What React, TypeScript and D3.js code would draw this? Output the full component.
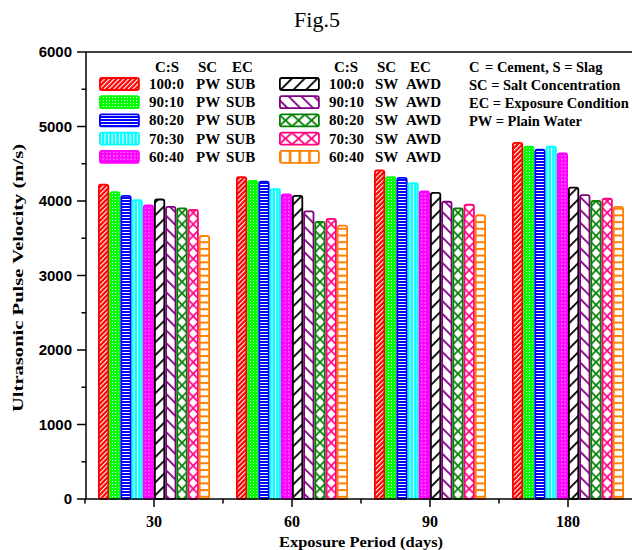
import * as d3 from 'd3';

// exposure periods (days) and the ten mixes
const periods = ['30', '60', '90', '180'];
const mixLabels = ['100:0', '90:10', '80:20', '70:30', '60:40'];

// plain water, submerged
const pw100 = [4220, 4320, 4410, 4780];
const pw90 = [4120, 4270, 4320, 4730];
const pw80 = [4070, 4260, 4310, 4690];
const pw70 = [4010, 4160, 4240, 4730];
const pw60 = [3940, 4090, 4130, 4640];
// sea water, alternate wetting/drying
const sw100 = [4020, 4070, 4110, 4180];
const sw90 = [3920, 3860, 3990, 4080];
const sw80 = [3900, 3720, 3900, 4000];
const sw70 = [3880, 3760, 3950, 4030];
const sw60 = [3530, 3670, 3810, 3920];

const seriesValues = [pw100, pw90, pw80, pw70, pw60, sw100, sw90, sw80, sw70, sw60];
const colors = ['#FF0000', '#00FF00', '#0000FF', '#00FFFF', '#FF00FF', '#000000', '#800080', '#008000', '#FF0080', '#FF8000'];
const yTicks = [0, 1000, 2000, 3000, 4000, 5000, 6000];
const notes = ['C', 'SC = Salt Concentration', 'EC = Exposure Condition', 'PW = Plain Water'];

const W = 632;
const H = 550;
const serif = '"Liberation Serif", "Times New Roman", serif';
const sans = '"Liberation Sans", Arial, sans-serif';

// builds the fill pattern for one series; x/y/cw/ch are used to line up the cross hatches
function makePattern(i: number, id: string, x: number, y: number, cw: number, ch: number, legend = false) {
  const c = colors[i];
  switch (i) {
    case 0:
      return (
        <pattern key={id} id={id} patternUnits="userSpaceOnUse" width={3.4} height={10} patternTransform="rotate(45)">
          <rect width={3.4} height={10} fill={c} />
          <rect width={1.1} height={10} fill="#fff" />
        </pattern>
      );
    case 1:
      return (
        <pattern key={id} id={id} patternUnits="userSpaceOnUse" width={3} height={3}>
          <rect width={3} height={3} fill={c} />
          <rect x={1} y={1} width={1} height={1} fill="#fff" />
        </pattern>
      );
    case 2:
      return (
        <pattern key={id} id={id} patternUnits="userSpaceOnUse" width={10} height={3}>
          <rect width={10} height={3} fill={c} />
          <rect y={1} width={10} height={1} fill="#fff" />
        </pattern>
      );
    case 3:
      return (
        <pattern key={id} id={id} patternUnits="userSpaceOnUse" x={x} width={3.6} height={10}>
          <rect width={3.6} height={10} fill={c} />
          <rect x={1.8} width={1.1} height={10} fill="#fff" />
        </pattern>
      );
    case 4:
      return (
        <pattern key={id} id={id} patternUnits="userSpaceOnUse" width={3.5} height={3.5}>
          <rect width={3.5} height={3.5} fill={c} />
          <rect x={1.2} y={1.2} width={1.1} height={1.1} fill="#fff" />
        </pattern>
      );
    case 5:
    case 6:
      return (
        <pattern key={id} id={id} patternUnits="userSpaceOnUse" width={9} height={10}
          patternTransform={i === 5 ? 'rotate(45)' : 'rotate(-45)'}>
          <rect width={9} height={10} fill="#fff" />
          <rect width={1.8} height={10} fill={c} />
        </pattern>
      );
    case 7:
    case 8:
      return (
        <pattern key={id} id={id} patternUnits="userSpaceOnUse" x={x} y={y} width={cw} height={ch}>
          <rect width={cw} height={ch} fill="#fff" />
          <path d={`M0,0L${cw},${ch}M${cw},0L0,${ch}`} stroke={c} strokeWidth={1.8} />
        </pattern>
      );
    default:
      if (legend) {
        return (
          <pattern key={id} id={id} patternUnits="userSpaceOnUse" x={x} width={9.75} height={12}>
            <rect width={9.75} height={12} fill="#fff" />
            <rect width={2.6} height={12} fill={c} />
          </pattern>
        );
      }
      return (
        <pattern key={id} id={id} patternUnits="userSpaceOnUse" width={10} height={6.7}>
          <rect width={10} height={6.7} fill="#fff" />
          <rect width={10} height={2} fill={c} />
        </pattern>
      );
  }
}

export default function App() {
  const x0 = d3.scaleBand().domain(periods).range([85, 637]);
  const x1 = d3.scaleBand<number>().domain(d3.range(10)).range([13, 125]);
  const y = d3.scaleLinear().domain([0, 6000]).range([499, 52]);
  const bw = x1.bandwidth();
  const minorY = d3.range(500, 6000, 1000);
  const bandEdges = periods.map((p) => x0(p) as number).concat([637]);

  const bars = periods.flatMap((p, pi) =>
    seriesValues.map((vals, si) => {
      const bx = (x0(p) as number) + (x1(si) as number);
      return { key: `b-${pi}-${si}`, si, bx, v: vals[pi] };
    })
  );

  const rowY = d3.range(5).map((k) => 84 + k * 18.2);
  const legends = [
    { sx: 99, tx: [149, 196, 226], hx: [155, 198, 232], sc: 'PW', ec: 'SUB', offset: 0 },
    { sx: 279, tx: [329, 375, 406], hx: [334, 377, 410], sc: 'SW', ec: 'AWD', offset: 5 },
  ];

  const defs: any[] = [];
  bars.forEach((b) => {
    defs.push(makePattern(b.si, `p-${b.key}`, b.bx, 0, bw, 11.5));
  });
  legends.forEach((lg) =>
    rowY.forEach((ry, k) => {
      const si = k + lg.offset;
      defs.push(makePattern(si, `l-${si}`, lg.sx, ry - 6, 13, 12, true));
    })
  );

  return (
    <svg width={W} height={H} style={{ position: 'absolute', left: 0, top: 0, background: '#fff' }}>
      <defs>{defs}</defs>
      <rect width={W} height={H} fill="#fff" />

      <text x={317} y={27} textAnchor="middle" fontFamily={serif} fontSize={22}>Fig.5</text>

      {bars.map((b) => (
        <rect key={b.key} x={b.bx + 0.9} width={bw - 1.8} y={y(b.v)} height={y(0) - y(b.v)} rx={2}
          fill={`url(#p-${b.key})`} stroke={colors[b.si]} strokeWidth={1.8} />
      ))}

      {/* axes frame */}
      <g stroke="#000" strokeWidth={1.5} fill="none">
        <line x1={86} x2={86} y1={52} y2={499} />
        <line x1={86} x2={W} y1={499} y2={499} />
        <line x1={86} x2={W} y1={52} y2={52} />
        {yTicks.map((t) => <line key={`yt${t}`} x1={77} x2={86} y1={y(t)} y2={y(t)} />)}
        {minorY.map((t) => <line key={`ym${t}`} x1={81.5} x2={86} y1={y(t)} y2={y(t)} />)}
        {periods.map((p) => {
          const cx = (x0(p) as number) + x0.bandwidth() / 2;
          return <line key={`xt${p}`} x1={cx} x2={cx} y1={499} y2={507} />;
        })}
        {bandEdges.map((e) => <line key={`xm${e}`} x1={e} x2={e} y1={499} y2={503.5} />)}
      </g>

      {yTicks.map((t) => (
        <text key={`yl${t}`} x={72} y={y(t)} dy="0.35em" textAnchor="end" fontFamily={sans}
          fontWeight="bold" fontSize={15}>{t}</text>
      ))}
      {periods.map((p) => (
        <text key={`xl${p}`} x={(x0(p) as number) + x0.bandwidth() / 2} y={527} textAnchor="middle"
          fontFamily={serif} fontWeight="bold" fontSize={16}>{p}</text>
      ))}

      <text x={361} y={547} textAnchor="middle" fontFamily={serif} fontWeight="bold" fontSize={15}
        textLength={164} lengthAdjust="spacingAndGlyphs">Exposure Period (days)</text>
      <text transform="translate(23,278) rotate(-90)" textAnchor="middle" fontFamily={serif}
        fontWeight="bold" fontSize={15.5} textLength={268} lengthAdjust="spacingAndGlyphs">
        Ultrasonic Pulse Velocity (m/s)
      </text>

      {legends.map((lg, li) => (
        <g key={`lg${li}`} fontFamily={serif} fontWeight="bold" fontSize={15}>
          <text x={lg.hx[0]} y={72}>C:S</text>
          <text x={lg.hx[1]} y={72}>SC</text>
          <text x={lg.hx[2]} y={72}>EC</text>
          {rowY.map((ry, k) => {
            const si = k + lg.offset;
            return (
              <g key={`lr${si}`}>
                <rect x={lg.sx + 0.9} y={ry - 6} width={39} height={12} rx={2} fill={`url(#l-${si})`}
                  stroke={colors[si]} strokeWidth={1.8} />
                <text x={lg.tx[0]} y={ry + 5}>{mixLabels[k]}</text>
                <text x={lg.tx[1]} y={ry + 5}>{lg.sc}</text>
                <text x={lg.tx[2]} y={ry + 5}>{lg.ec}</text>
              </g>
            );
          })}
        </g>
      ))}

      <g fontFamily={serif} fontWeight="bold" fontSize={14.5}>
        <text x={469} y={72}>{notes[0]}</text>
        <text x={485} y={72}>= Cement, S = Slag</text>
        {notes.slice(1).map((n, i) => (
          <text key={n} x={469} y={89.5 + i * 18}>{n}</text>
        ))}
      </g>
    </svg>
  );
}
